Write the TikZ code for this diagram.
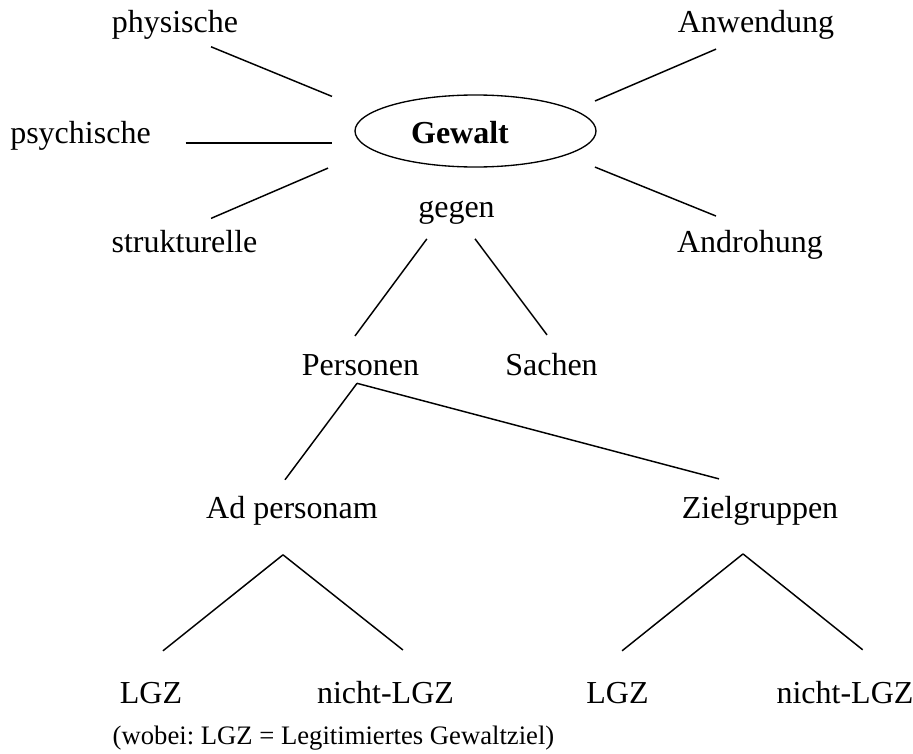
\documentclass[tikz,border=0pt]{standalone}
\usepackage{fontspec}
\setmainfont{Liberation Serif}
\usetikzlibrary{shapes.geometric, calc}
\newcommand{\lblfont}{\fontsize{24}{28}\selectfont}
\newcommand{\notefont}{\fontsize{20}{24}\selectfont\frenchspacing}
\tikzset{
    every node/.style={font=\lblfont},
    word/.style={inner sep=0pt, outer sep=0pt, anchor=base},
    core/.style={draw, ellipse, line width=1pt, inner sep=0pt, outer sep=0pt, minimum width=180.75pt, minimum height=54pt},
    link/.style={line width=1.1pt},
    leg/.style={link, shorten >=37.2pt},
}

\begin{document}
\begin{tikzpicture}[x=0.75pt, y=-0.75pt]
  \useasboundingbox (0,0) rectangle (913,753);
  \node[core] (gew) at (475.5,131) {};
  \node[word, font=\lblfont\bfseries] (gewtxt) at (460,143) {Gewalt};
  \node[word] (phys) at (175,32) {physische};
  \node[word] (psych) at (80.5,143) {psychische};
  \node[word] (strukt) at (184.5,252) {strukturelle};
  \node[word] (anw) at (756,32) {Anwendung};
  \node[word] (andr) at (750,252) {Androhung};
  \node[word] (gegen) at (456.5,217) {gegen};
  \node[word] (pers) at (360.5,375) {Personen};
  \node[word] (sach) at (551.5,375) {Sachen};
  \node[word] (adp) at (292,518) {Ad personam};
  \node[word] (ziel) at (760,518) {Zielgruppen};
  \node[word] (lgzA) at (151,703) {LGZ};
  \node[word] (nlgzA) at (385.5,703) {nicht-LGZ};
  \node[word] (lgzB) at (617.5,703) {LGZ};
  \node[word] (nlgzB) at (845,703) {nicht-LGZ};
  \node[word, font=\notefont] (note) at (333.5,744) {(wobei: LGZ = Legitimiertes Gewaltziel)};
  % fork points under the branching words
  \coordinate (persfork) at ([xshift=-2.6pt, yshift=-6pt]pers.south);
  \coordinate (adpfork) at ([xshift=-6.75pt, yshift=-22.5pt]adp.south);
  \coordinate (zielfork) at ([xshift=-12.75pt, yshift=-21.75pt]ziel.south);
    \draw[link, shorten <=29.2pt, shorten >=32.2pt] (phys.base) -- (gew.170);
    \draw[link, shorten <=26.25pt, shorten >=22.4pt] (psych.base east) -- (psych.base east -| gew.186);
    \draw[link, shorten <=21.7pt, shorten >=35.7pt] (strukt.north) -- (gew.190);
    \draw[link, shorten <=32.6pt, shorten >=17.4pt] (anw.base) -- (gew.12);
    \draw[link, shorten <=24.1pt, shorten >=27.5pt] (gew.345) -- (andr.north);
    \draw[link, shorten <=14pt, shorten >=16.9pt] ([xshift=-13.9pt]gegen.south) -- ([xshift=-14.2pt]pers.north);
    \draw[link, shorten <=14pt, shorten >=16.8pt] ([xshift=5.5pt]gegen.south) -- ([xshift=6.7pt]sach.north);
    \draw[link, shorten >=15pt] (persfork) -- ([xshift=-14.25pt]adp.north);
    \draw[link, shorten >=49.7pt] (persfork) -- ([xshift=17.3pt]ziel.north);
    \draw[leg] (adpfork) -- ([xshift=-20.1pt]lgzA.north);
    \draw[leg] (adpfork) -- ([xshift=42.2pt]nlgzA.north);
    \draw[leg] (zielfork) -- ([xshift=-25.6pt]lgzB.north);
    \draw[leg] (zielfork) -- ([xshift=42.3pt]nlgzB.north);
\end{tikzpicture}
\end{document}
